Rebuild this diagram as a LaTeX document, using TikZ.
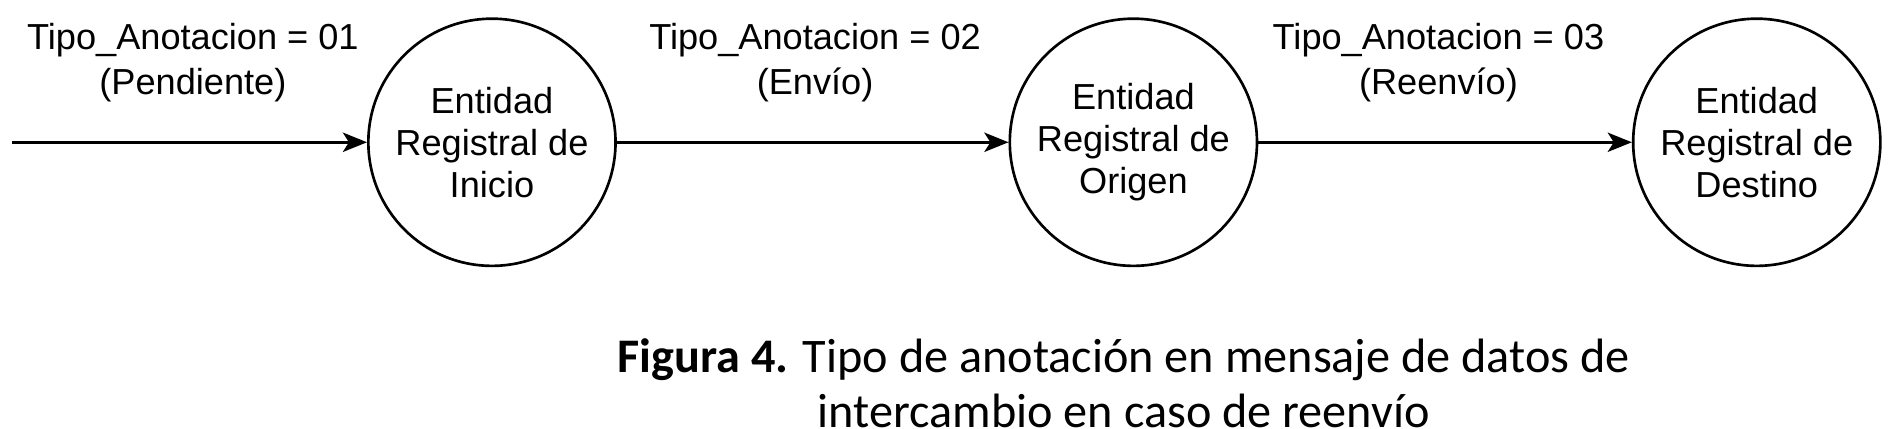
\documentclass[tikz,border=0pt]{standalone}
\usepackage{fontspec}
\setmainfont{Liberation Sans}
\newfontfamily\capfont{Carlito}
\usetikzlibrary{arrows.meta}
\begin{document}
\begin{tikzpicture}[x=1pt,y=-1pt,
  st/.style={circle,draw,line width=2.2pt,minimum size=205pt,inner sep=0pt,align=center,font=\fontsize{30}{35}\selectfont},
  lbl/.style={align=center,font=\fontsize{30}{37}\selectfont},
  arr/.style={line width=2.2pt,-{Stealth[length=20pt,width=16pt,inset=5pt]}}]
\useasboundingbox (0,0) rectangle (1570,355);
\node[st] (a) at (408,118) {Entidad\\Registral de\\Inicio};
\node[st] (b) at (940,118) {Entidad\\Registral de\\Origen};
\node[st] (c) at (1457,118) {Entidad\\Registral de\\Destino};
\coordinate (s) at (10,118);
\draw[arr] (s) -- (a);
\draw[arr] (a) -- (b);
\draw[arr] (b) -- (c);
\node[lbl] (l1) at (160,52) {Tipo\_Anotacion = 01\\(Pendiente)};
\node[lbl] (l2) at (676,52) {Tipo\_Anotacion = 02\\(Envío)};
\node[lbl] (l3) at (1193,52) {Tipo\_Anotacion = 03\\(Reenvío)};
\node[align=center,font=\capfont\fontsize{40}{46}\selectfont] (cap) at (932,318) {\textbf{Figura 4.} Tipo de anotación en mensaje de datos de\\intercambio en caso de reenvío};
\end{tikzpicture}
\end{document}
